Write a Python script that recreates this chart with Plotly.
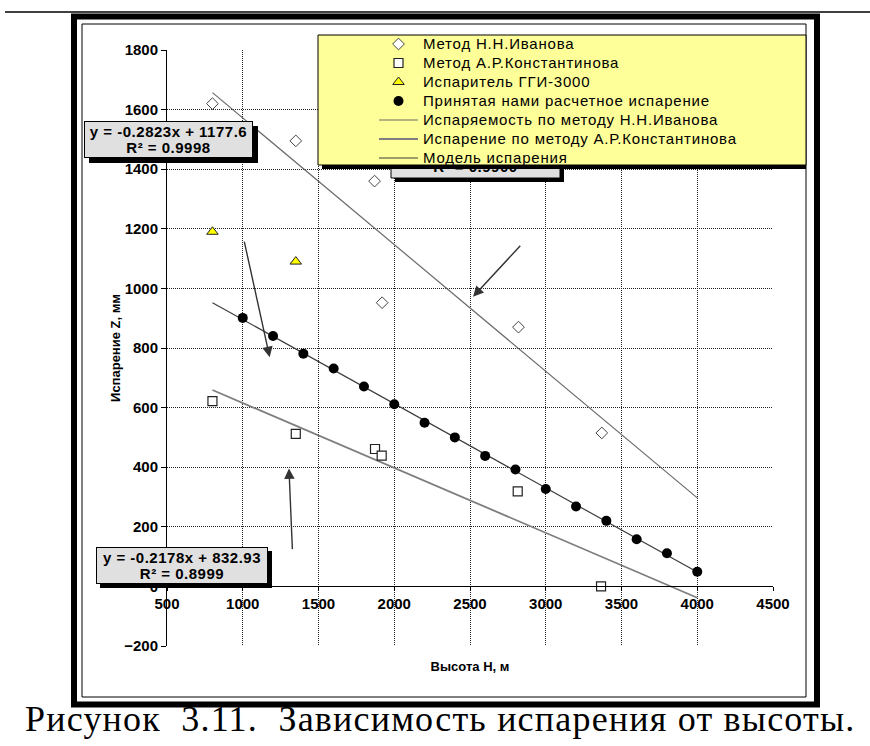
import plotly.graph_objects as go

# ---------------- data ----------------
ivanov_h = [800, 1350, 1870, 1920, 2820, 3370]
ivanov_z = [1620, 1495, 1360, 952, 870, 515]

konst_h = [800, 1350, 1873, 1917, 2815, 3365]
konst_z = [622, 512, 461, 439, 319, 0]

ggi_h = [800, 1350]
ggi_z = [1190, 1090]

model_h = [1000, 1200, 1400, 1600, 1800, 2000, 2200, 2400, 2600, 2800,
           3000, 3200, 3400, 3600, 3800, 4000]
model_z = [901, 840, 781, 731, 671, 611, 549, 500, 438, 392,
           327, 268, 220, 158, 111, 49]

trend_h = [800, 4000]
ivanov_trend_z = [1657, 297]
konst_trend_z = [659, -38]
model_trend_z = [952, 48]

names = ["Метод Н.Н.Иванова", "Метод А.Р.Константинова", "Испаритель ГГИ-3000",
         "Принятая нами расчетное испарение", "Испаряемость по методу Н.Н.Иванова",
         "Испарение по методу А.Р.Константинова", "Модель испарения"]

eq_model = ["y = -0.2823x + 1177.6", "R² = 0.9998"]
eq_konst = ["y = -0.2178x + 832.93", "R² = 0.8999"]
eq_ivanov = ["y = -0.425x + 1997", "R² = 0.9900"]

x_title = "Высота H, м"
y_title = "Испарение Z, мм"
caption = "Рисунок  3.11.  Зависимость испарения от высоты."

# ---------------- layout helpers ----------------
W, H = 870, 746
L, R, T, B = 167, 773, 50, 646
PW, PH = R - L, B - T


def fx(p):
    return (p - L) / PW


def fy(p):
    return (B - p) / PH


SANS = "Liberation Sans, Arial, sans-serif"
LEG_STYLE = "font-size:15px;letter-spacing:0.8px"
EQ_STYLE = "font-size:15px;letter-spacing:0.5px"


def leg(name):
    return f'<span style="{LEG_STYLE}">{name}</span>'


def eq(lines):
    return "<br>".join(f'<span style="{EQ_STYLE}">{s}</span>' for s in lines)


fig = go.Figure()

# trend lines (drawn first)
fig.add_trace(go.Scatter(x=trend_h, y=ivanov_trend_z, mode="lines", name=leg(names[4]),
                         line=dict(color="#6a6a6a", width=1.2), legendrank=5))
fig.add_trace(go.Scatter(x=trend_h, y=konst_trend_z, mode="lines", name=leg(names[5]),
                         line=dict(color="#7e7e7e", width=1.8), legendrank=6))
fig.add_trace(go.Scatter(x=trend_h, y=model_trend_z, mode="lines", name=leg(names[6]),
                         line=dict(color="#3c3c3c", width=1.2), legendrank=7))

# points
fig.add_trace(go.Scatter(x=ivanov_h, y=ivanov_z, mode="markers", name=leg(names[0]),
                         marker=dict(symbol="diamond", size=9, color="white",
                                     line=dict(color="#444", width=1)), legendrank=1))
fig.add_trace(go.Scatter(x=konst_h, y=konst_z, mode="markers", name=leg(names[1]),
                         marker=dict(symbol="square", size=9, color="white",
                                     line=dict(color="#222", width=1.2)), legendrank=2))
fig.add_trace(go.Scatter(x=ggi_h, y=ggi_z, mode="markers", name=leg(names[2]),
                         marker=dict(symbol="triangle-up", size=10, color="#ffff00",
                                     line=dict(color="#222", width=1)), legendrank=3))
fig.add_trace(go.Scatter(x=model_h, y=model_z, mode="markers", name=leg(names[3]),
                         marker=dict(symbol="circle", size=10, color="black",
                                     line=dict(color="black", width=0)), legendrank=4))

shapes = []
# page line & frames
shapes.append(dict(type="line", xref="paper", yref="paper", x0=fx(5), x1=fx(870),
                   y0=fy(12), y1=fy(12), line=dict(color="black", width=1.5), layer="above"))
shapes.append(dict(type="rect", xref="paper", yref="paper", x0=fx(74), x1=fx(817),
                   y0=fy(16.5), y1=fy(704.5), line=dict(color="black", width=6), layer="above"))
shapes.append(dict(type="rect", xref="paper", yref="paper", x0=fx(82), x1=fx(806),
                   y0=fy(24), y1=fy(697), line=dict(color="black", width=1), layer="above"))

# hidden equation box (mostly under the legend)
shapes.append(dict(type="rect", xref="paper", yref="paper", x0=fx(395), x1=fx(564),
                   y0=fy(145), y1=fy(182), fillcolor="black", line=dict(width=0), layer="above"))
shapes.append(dict(type="rect", xref="paper", yref="paper", x0=fx(391), x1=fx(560),
                   y0=fy(141), y1=fy(178), fillcolor="#e0e0e0",
                   line=dict(color="black", width=1), layer="above",
                   label=dict(text=eq(eq_ivanov), font=dict(family=SANS, size=13, color="black",
                                                            weight="bold"))))

# equation box shadows
shapes.append(dict(type="rect", xref="paper", yref="paper", x0=fx(89), x1=fx(258),
                   y0=fy(126), y1=fy(163), fillcolor="black", line=dict(width=0), layer="above"))
shapes.append(dict(type="rect", xref="paper", yref="paper", x0=fx(100), x1=fx(272),
                   y0=fy(551), y1=fy(588), fillcolor="black", line=dict(width=0), layer="above"))

# legend box & shadow
shapes.append(dict(type="rect", xref="paper", yref="paper", x0=fx(322), x1=fx(806),
                   y0=fy(39), y1=fy(169), fillcolor="black", line=dict(width=0), layer="above"))
shapes.append(dict(type="rect", xref="paper", yref="paper", x0=fx(318), x1=fx(806),
                   y0=fy(35), y1=fy(165), fillcolor="#ffff99",
                   line=dict(color="black", width=1), layer="above"))

annotations = []
annotations.append(dict(xref="paper", yref="paper", x=fx(168.5), y=fy(139.5),
                        xanchor="center", yanchor="middle", text=eq(eq_model), showarrow=False,
                        width=167, height=35, bgcolor="#e0e0e0", bordercolor="black",
                        borderwidth=1, borderpad=0,
                        font=dict(family=SANS, size=13, color="black", weight="bold")))
annotations.append(dict(xref="paper", yref="paper", x=fx(182), y=fy(565),
                        xanchor="center", yanchor="middle", text=eq(eq_konst), showarrow=False,
                        width=170, height=35, bgcolor="#e0e0e0", bordercolor="black",
                        borderwidth=1, borderpad=0,
                        font=dict(family=SANS, size=13, color="black", weight="bold")))

# arrows (tip, tail) in data coordinates
arrows = [((1178, 769), (1008, 1162)),
          ((1305, 396), (1328, 120)),
          ((2520, 972), (2841, 1148))]
for (hx, hy), (tx, ty) in arrows:
    annotations.append(dict(x=hx, y=hy, ax=tx, ay=ty, xref="x", yref="y", axref="x",
                            ayref="y", text="", showarrow=True, arrowhead=2, arrowsize=1.5,
                            arrowwidth=1.4, arrowcolor="#333"))

annotations.append(dict(xref="paper", yref="paper", x=fx(440), y=fy(719), xanchor="center",
                        yanchor="middle",
                        text=f'<span style="letter-spacing:1.2px">{caption}</span>',
                        showarrow=False,
                        font=dict(family="Liberation Serif, Times New Roman, serif",
                                  size=36, color="black")))

fig.update_layout(
    width=W, height=H,
    margin=dict(l=L, r=W - R, t=T, b=H - B),
    paper_bgcolor="white", plot_bgcolor="white",
    shapes=shapes, annotations=annotations,
    showlegend=True,
    legend=dict(x=fx(374), y=fy(29.5), xanchor="left", yanchor="top",
                bgcolor="rgba(0,0,0,0)", borderwidth=0, itemwidth=39,
                font=dict(family=SANS, size=12, color="black"), itemclick=False),
    hovermode=False,
    xaxis=dict(range=[500, 4500], dtick=500, tick0=500, anchor="free", position=0.1,
               showline=True, linecolor="black", linewidth=1, ticks="outside", ticklen=4,
               tickcolor="black", showgrid=True, gridcolor="#222", gridwidth=1,
               griddash="1px,1px", zeroline=False,
               tickfont=dict(family=SANS, size=15, color="black", weight="bold"),
               title=dict(text=x_title, standoff=50,
                          font=dict(family=SANS, size=13, color="black", weight="bold"))),
    yaxis=dict(range=[-200, 1800], dtick=200, tick0=0, showline=True, linecolor="black",
               linewidth=1, ticks="outside", ticklen=5, tickcolor="black", showgrid=True,
               gridcolor="#222", gridwidth=1, griddash="1px,1px", zeroline=False,
               tickfont=dict(family=SANS, size=15, color="black", weight="bold"),
               title=dict(text=y_title, standoff=0,
                          font=dict(family=SANS, size=13, color="black", weight="bold"))),
)

fig.write_html("out.html")
